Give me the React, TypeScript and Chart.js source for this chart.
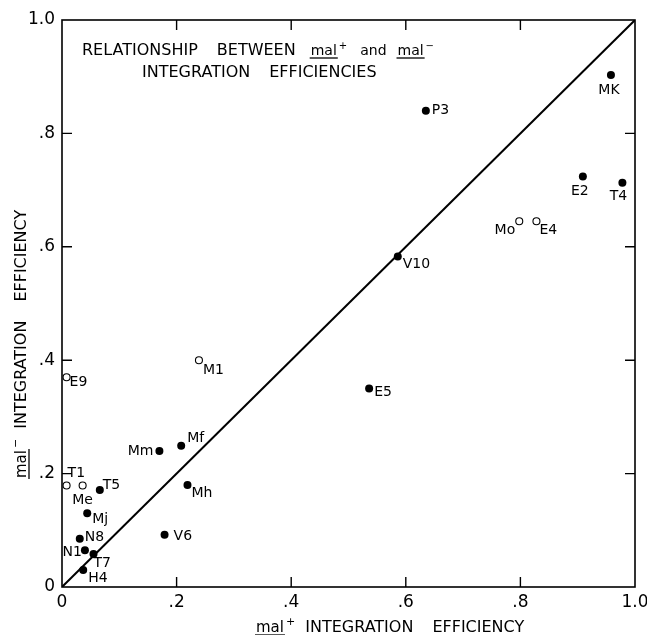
import { useEffect, useRef } from "react";
import { Chart, registerables } from "chart.js";

Chart.register(...registerables);

// ---- data ----
const strains = ["MK", "P3", "E2", "T4", "Mo", "E4", "V10", "E5", "M1", "E9", "Mf", "Mm", "Mh", "T1", "Me", "T5", "Mj", "N8", "V6", "N1", "T7", "H4"];
const malPlusEff = [0.958, 0.635, 0.909, 0.978, 0.798, 0.828, 0.586, 0.536, 0.239, 0.008, 0.208, 0.170, 0.219, 0.008, 0.036, 0.066, 0.044, 0.031, 0.179, 0.040, 0.055, 0.037];
const malMinusEff = [0.903, 0.840, 0.724, 0.713, 0.645, 0.645, 0.583, 0.350, 0.400, 0.370, 0.249, 0.240, 0.180, 0.179, 0.179, 0.171, 0.130, 0.085, 0.092, 0.065, 0.058, 0.030];
const openStrains = ["Mo", "E4", "M1", "E9", "T1", "Me"];
const tickValues = [0, 0.2, 0.4, 0.6, 0.8, 1.0];
const tickLabels = ["0", ".2", ".4", ".6", ".8", "1.0"];

// label placement (dx, dy from point in px, text alignment)
const labelPlacement: Record<string, [number, number, CanvasTextAlign]> = {
  MK: [-2, 15, "center"],
  P3: [6, 0, "left"],
  E2: [-3, 15, "center"],
  T4: [-4, 14, "center"],
  Mo: [-4, 9, "right"],
  E4: [3, 9, "left"],
  V10: [5, 8, "left"],
  E5: [5, 4, "left"],
  M1: [4, 10, "left"],
  E9: [3, 5, "left"],
  Mf: [6, -7, "left"],
  Mm: [-6, 0, "right"],
  Mh: [4, 8, "left"],
  T1: [1, -12, "left"],
  Me: [0, 15, "center"],
  T5: [3, -5, "left"],
  Mj: [5, 6, "left"],
  N8: [5, -1, "left"],
  V6: [9, 2, "left"],
  N1: [-3, 2, "right"],
  T7: [0, 9, "left"],
  H4: [5, 8, "left"],
};

const FONT = '"DejaVu Sans", sans-serif';

const filledPts = strains
  .map((s, i) => ({ x: malPlusEff[i], y: malMinusEff[i], s }))
  .filter((p) => !openStrains.includes(p.s));
const openPts = strains
  .map((s, i) => ({ x: malPlusEff[i], y: malMinusEff[i], s }))
  .filter((p) => openStrains.includes(p.s));

const fmtTick = (v: number) => {
  const idx = tickValues.findIndex((t) => Math.abs(t - v) < 1e-6);
  return idx >= 0 ? tickLabels[idx] : "";
};

// draws "mal" underlined + superscript sign, returns width
function drawMal(ctx: CanvasRenderingContext2D, x: number, y: number, sign: string, size: number) {
  ctx.save();
  ctx.font = `${size}px ${FONT}`;
  ctx.textAlign = "left";
  ctx.textBaseline = "alphabetic";
  ctx.fillText("mal", x, y);
  const w = ctx.measureText("mal").width;
  ctx.lineWidth = 1.3;
  ctx.beginPath();
  ctx.moveTo(x - 1, y + 3);
  ctx.lineTo(x + w + 1, y + 3);
  ctx.stroke();
  ctx.font = `${Math.round(size * 0.7)}px ${FONT}`;
  ctx.fillText(sign, x + w + 2, y - size * 0.45);
  const w2 = ctx.measureText(sign).width;
  ctx.restore();
  return w + 2 + w2;
}

const decorPlugin = {
  id: "decor",
  afterDatasetsDraw(chart: any) {
    const { ctx, chartArea, scales } = chart;
    const xs = scales.x;
    const ys = scales.y;
    ctx.save();
    ctx.fillStyle = "#000";
    ctx.strokeStyle = "#000";

    // frame
    ctx.lineWidth = 1.6;
    ctx.strokeRect(chartArea.left, chartArea.top, chartArea.right - chartArea.left, chartArea.bottom - chartArea.top);

    // inward ticks on all sides
    ctx.lineWidth = 1.4;
    const tl = 10;
    for (const v of tickValues.slice(1, -1)) {
      const px = xs.getPixelForValue(v);
      const py = ys.getPixelForValue(v);
      ctx.beginPath();
      ctx.moveTo(px, chartArea.bottom);
      ctx.lineTo(px, chartArea.bottom - tl);
      ctx.moveTo(px, chartArea.top);
      ctx.lineTo(px, chartArea.top + tl);
      ctx.moveTo(chartArea.left, py);
      ctx.lineTo(chartArea.left + tl, py);
      ctx.moveTo(chartArea.right, py);
      ctx.lineTo(chartArea.right - tl, py);
      ctx.stroke();
    }

    // point labels
    ctx.font = `14px ${FONT}`;
    ctx.textBaseline = "middle";
    strains.forEach((s, i) => {
      const px = xs.getPixelForValue(malPlusEff[i]);
      const py = ys.getPixelForValue(malMinusEff[i]);
      const [dx, dy, al] = labelPlacement[s];
      ctx.textAlign = al;
      ctx.fillText(s, px + dx, py + dy);
    });

    // in-plot title
    const tSize = 16;
    ctx.font = `${tSize}px ${FONT}`;
    ctx.textBaseline = "alphabetic";
    ctx.textAlign = "left";
    const gap = 19;
    let x = 82;
    const y1 = 55;
    ctx.fillText("RELATIONSHIP", x, y1);
    x += ctx.measureText("RELATIONSHIP").width + gap;
    ctx.fillText("BETWEEN", x, y1);
    x += ctx.measureText("BETWEEN").width + 15;
    x += drawMal(ctx, x, y1, "+", 14) + 13;
    ctx.font = `14px ${FONT}`;
    ctx.fillText("and", x, y1);
    x += ctx.measureText("and").width + 11;
    drawMal(ctx, x, y1, "−", 14);
    ctx.font = `${tSize}px ${FONT}`;
    const y2 = 77;
    let x2 = 142;
    ctx.fillText("INTEGRATION", x2, y2);
    x2 += ctx.measureText("INTEGRATION").width + gap;
    ctx.fillText("EFFICIENCIES", x2, y2);

    // x axis title
    let ax = 256;
    const ay = 632;
    ax += drawMal(ctx, ax, ay, "+", 15) + 10;
    ctx.font = `16px ${FONT}`;
    ctx.fillText("INTEGRATION", ax, ay);
    ax += ctx.measureText("INTEGRATION").width + gap;
    ctx.fillText("EFFICIENCY", ax, ay);

    // y axis title (rotated)
    ctx.save();
    ctx.translate(26, 478);
    ctx.rotate(-Math.PI / 2);
    let bx = 0;
    bx += drawMal(ctx, bx, 0, "−", 15) + 10;
    ctx.font = `16px ${FONT}`;
    ctx.fillText("INTEGRATION", bx, 0);
    bx += ctx.measureText("INTEGRATION").width + gap;
    ctx.fillText("EFFICIENCY", bx, 0);
    ctx.restore();

    ctx.restore();
  },
};

export default function App() {
  const ref = useRef<HTMLCanvasElement | null>(null);
  useEffect(() => {
    document.body.style.margin = "0";
    document.body.style.background = "#fff";
    if (!ref.current) return;
    const chart = new Chart(ref.current, {
      type: "scatter",
      data: {
        datasets: [
          {
            type: "line",
            label: "y = x",
            data: [
              { x: 0, y: 0 },
              { x: 1, y: 1 },
            ],
            borderColor: "#000",
            borderWidth: 2,
            pointRadius: 0,
            fill: false,
          } as any,
          {
            label: "filled",
            data: filledPts,
            backgroundColor: "#000",
            borderColor: "#000",
            pointRadius: 4,
            pointBorderWidth: 0,
          },
          {
            label: "open",
            data: openPts,
            backgroundColor: "#fff",
            borderColor: "#000",
            pointRadius: 3.5,
            pointBorderWidth: 1.1,
          },
        ],
      },
      options: {
        responsive: false,
        animation: false,
        devicePixelRatio: 1,
        layout: { padding: { top: 20, right: 12, left: 0, bottom: 0 } },
        plugins: {
          legend: { display: false },
          tooltip: { enabled: false },
          title: { display: false },
        },
        scales: {
          x: {
            type: "linear",
            min: 0,
            max: 1,
            afterBuildTicks: (scale: any) => {
              scale.ticks = tickValues.map((v) => ({ value: v }));
            },
            afterFit: (scale: any) => {
              scale.height = 48;
              scale.paddingLeft = 0;
              scale.paddingRight = 0;
            },
            grid: { display: false, drawTicks: false },
            border: { display: false },
            ticks: {
              color: "#000",
              font: { family: FONT, size: 17 },
              padding: 5,
              maxRotation: 0,
              autoSkip: false,
              callback: (v: any) => fmtTick(Number(v)),
            },
          },
          y: {
            type: "linear",
            min: 0,
            max: 1,
            afterBuildTicks: (scale: any) => {
              scale.ticks = tickValues.map((v) => ({ value: v }));
            },
            afterFit: (scale: any) => {
              scale.width = 62;
              scale.paddingTop = 0;
              scale.paddingBottom = 0;
            },
            grid: { display: false, drawTicks: false },
            border: { display: false },
            ticks: {
              color: "#000",
              font: { family: FONT, size: 17 },
              padding: 7,
              autoSkip: false,
              callback: (v: any) => fmtTick(Number(v)),
            },
          },
        },
      },
      plugins: [decorPlugin],
    });
    return () => chart.destroy();
  }, []);
  return <canvas ref={ref} width={647} height={635} style={{ display: "block" }} />;
}
